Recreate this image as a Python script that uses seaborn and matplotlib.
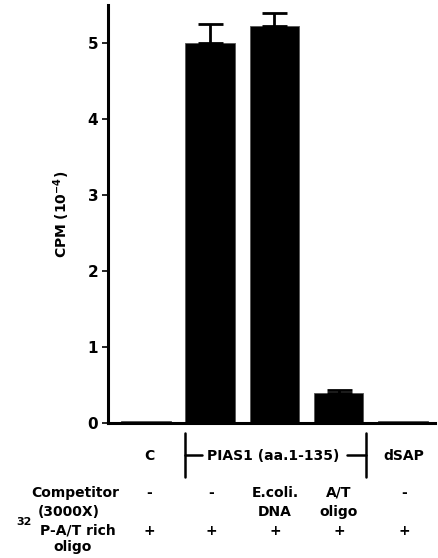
import matplotlib
matplotlib.use("Agg")
import matplotlib.pyplot as plt
from matplotlib.lines import Line2D
import seaborn as sns
import pandas as pd
import numpy as np

groups = ["C", "PIAS1 -", "PIAS1 E.coli", "PIAS1 A/T", "dSAP"]
cpm = [0.02, 5.0, 5.22, 0.40, 0.02]
err = [0.0, 0.25, 0.18, 0.03, 0.0]
competitor = ["-", "-", "E.coli.\nDNA", "A/T\noligo", "-"]
probe = ["+", "+", "+", "+", "+"]
yticks = [0, 1, 2, 3, 4, 5]

sns.set_theme(style="ticks", rc={
    "text.color": "black", "axes.labelcolor": "black",
    "xtick.color": "black", "ytick.color": "black",
    "axes.edgecolor": "black"})
plt.rcParams['font.family'] = ['DejaVu Sans']
plt.rcParams['font.weight'] = 'bold'

W, H = 438, 558
fig = plt.figure(figsize=(W / 100, H / 100), dpi=100)
ax = fig.add_axes([108 / W, 1 - 423 / H, (435 - 108) / W, 418 / H])

df = pd.DataFrame({"group": groups, "cpm": cpm})
sns.barplot(data=df, x="group", y="cpm", color="black", width=0.77,
            edgecolor="#555555", linewidth=0.6, errorbar=None, ax=ax, saturation=1)
xs = np.arange(len(groups))
for x, v, e in zip(xs, cpm, err):
    if e > 0:
        ax.errorbar([x], [v], yerr=[[0], [e]], fmt="none", ecolor="black",
                    elinewidth=2, capsize=9, capthick=2)

ax.set_xlim(-0.59, 4.5)
ax.set_ylim(0, 5.5)
ax.set_yticks(yticks)
ax.set_yticklabels([str(t) for t in yticks], fontsize=11, fontweight="bold")
ax.set_xticks([])
ax.set_xlabel("")
ax.set_ylabel("CPM (10$^{\\mathbf{-4}}$)", fontsize=10, fontweight="bold")
ax.yaxis.set_label_coords((72 - 108) / (435 - 108), 0.5)
for s in ["top", "right"]:
    ax.spines[s].set_visible(False)
ax.spines["left"].set_linewidth(2.2)
ax.spines["bottom"].set_linewidth(2.2)
ax.tick_params(axis="y", length=4, width=1.2, pad=3)

def T(px, py, s, **kw):
    kw.setdefault("fontsize", 10)
    kw.setdefault("fontweight", "bold")
    kw.setdefault("color", "black")
    fig.text(px / W, 1 - py / H, s, **kw)

# group labels
T(149, 456, "C", ha="center", va="center")
T(273, 456, "PIAS1 (aa.1-135)", ha="center", va="center", fontsize=10)
T(404, 456, "dSAP", ha="center", va="center")

def L(xs_, ys_):
    fig.add_artist(Line2D([x / W for x in xs_], [1 - y / H for y in ys_],
                          transform=fig.transFigure, color="black", lw=1.8))
L([185, 185], [433, 477])
L([366, 366], [433, 477])
L([185, 202], [455, 455])
L([347, 366], [455, 455])

# row labels
T(75, 493, "Competitor", ha="center", va="center")
T(69, 512, "(3000X)", ha="center", va="center")
T(24, 522, "32", ha="center", va="center", fontsize=8)
T(78, 531, "P-A/T rich", ha="center", va="center")
T(73, 547, "oligo", ha="center", va="center")

colx = [149, 211, 275, 339, 404]
for cx, c in zip(colx, competitor):
    for i, ln in enumerate(c.split("\n")):
        T(cx, 493 + i * 19, ln, ha="center", va="center")
for cx, p in zip(colx, probe):
    T(cx, 531, p, ha="center", va="center")

fig.savefig("out.png", dpi=100)
